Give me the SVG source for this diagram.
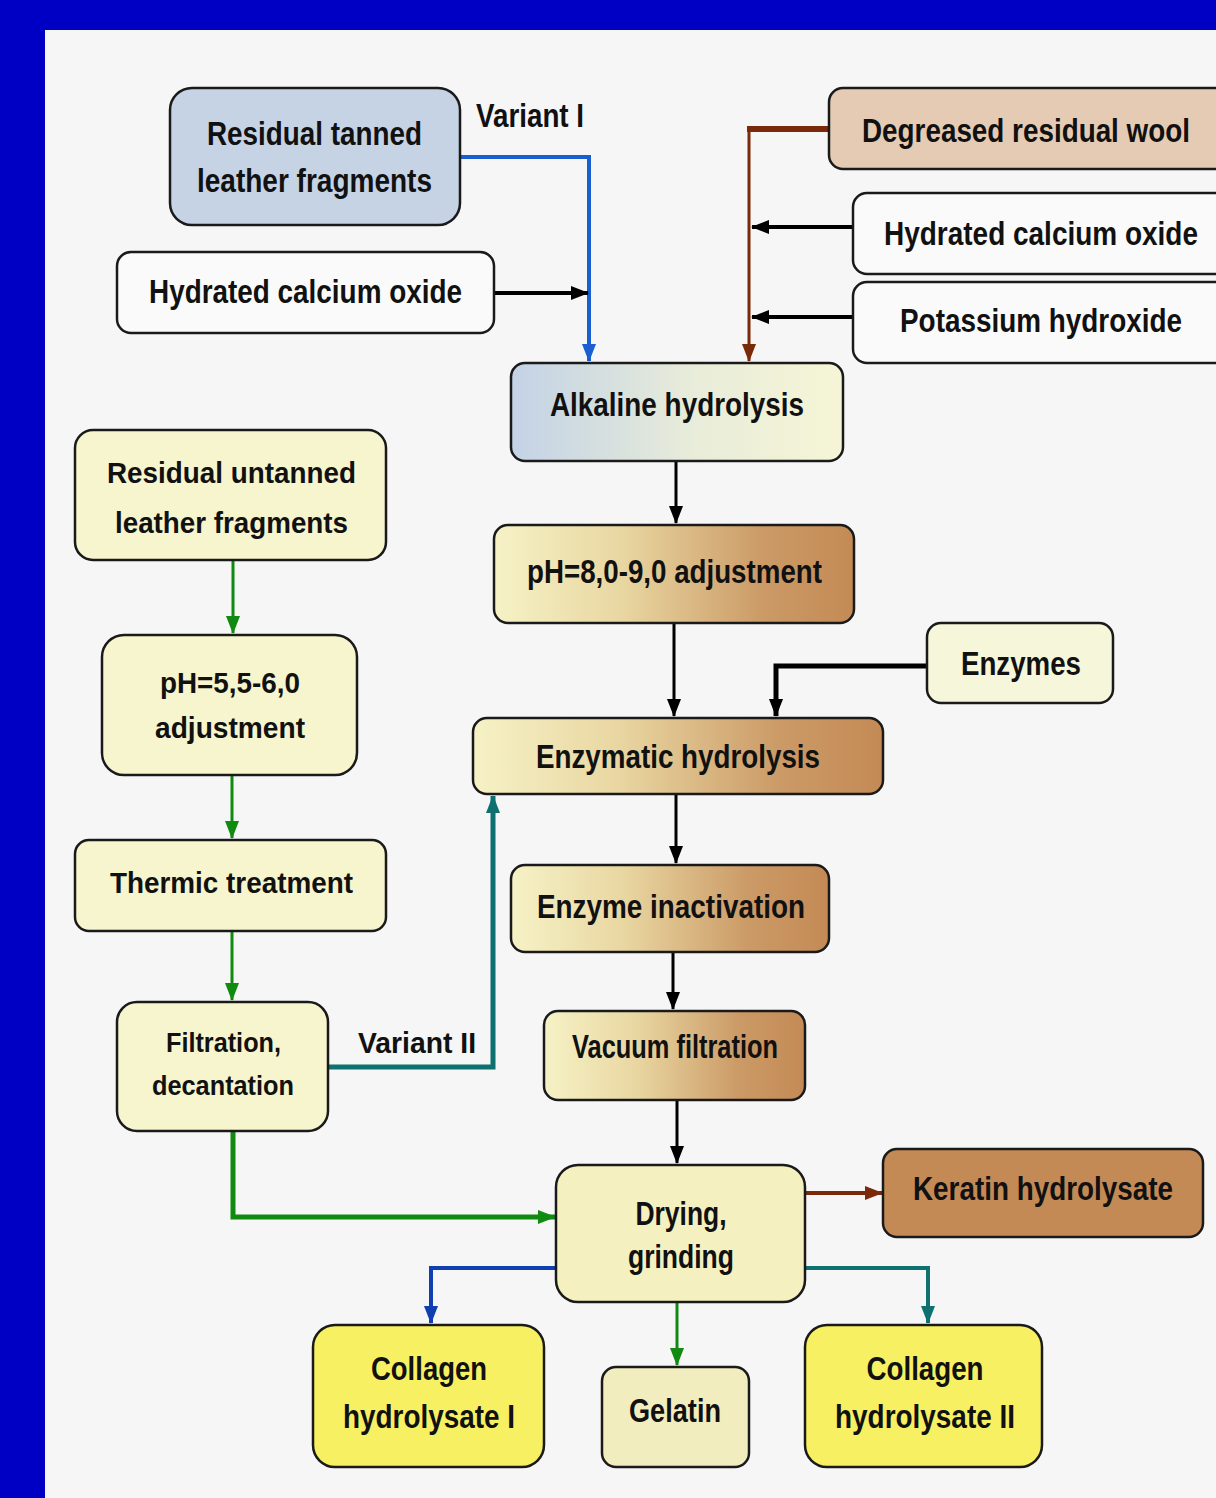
<svg xmlns="http://www.w3.org/2000/svg" width="1216" height="1498" viewBox="0 0 1216 1498">
<style>
.box{stroke:#1a1a1a;stroke-width:2.5}
.t{font-family:"Liberation Sans",Arial,sans-serif;font-weight:bold;font-size:33px;fill:#111;text-anchor:middle}
.ts{font-size:30px}
.tf{font-size:27px}
.c{fill:none}
</style>
<defs>
<linearGradient id="gAlk" x1="0" y1="0" x2="1" y2="0">
<stop offset="0" stop-color="#C3D2E6"/><stop offset="0.55" stop-color="#E8ECD9"/><stop offset="1" stop-color="#F6F5D6"/>
</linearGradient>
<linearGradient id="gBr" x1="0" y1="0" x2="1" y2="0">
<stop offset="0" stop-color="#F6F2C6"/><stop offset="0.35" stop-color="#E9D7A2"/><stop offset="0.75" stop-color="#CB9A66"/><stop offset="1" stop-color="#C48A55"/>
</linearGradient>
<marker id="aBk" viewBox="0 0 18 14" refX="17" refY="7" markerWidth="18" markerHeight="14" markerUnits="userSpaceOnUse" orient="auto"><path d="M0,0 L18,7 L0,14 z" fill="#000"/></marker>
<marker id="aBl" viewBox="0 0 18 14" refX="17" refY="7" markerWidth="18" markerHeight="14" markerUnits="userSpaceOnUse" orient="auto"><path d="M0,0 L18,7 L0,14 z" fill="#1A5FD0"/></marker>
<marker id="aBl2" viewBox="0 0 18 14" refX="17" refY="7" markerWidth="18" markerHeight="14" markerUnits="userSpaceOnUse" orient="auto"><path d="M0,0 L18,7 L0,14 z" fill="#1040B0"/></marker>
<marker id="aBr" viewBox="0 0 18 14" refX="17" refY="7" markerWidth="18" markerHeight="14" markerUnits="userSpaceOnUse" orient="auto"><path d="M0,0 L18,7 L0,14 z" fill="#7A2A0A"/></marker>
<marker id="aGr" viewBox="0 0 18 14" refX="17" refY="7" markerWidth="18" markerHeight="14" markerUnits="userSpaceOnUse" orient="auto"><path d="M0,0 L18,7 L0,14 z" fill="#108A10"/></marker>
<marker id="aTl" viewBox="0 0 18 14" refX="17" refY="7" markerWidth="18" markerHeight="14" markerUnits="userSpaceOnUse" orient="auto"><path d="M0,0 L18,7 L0,14 z" fill="#0F7070"/></marker>
</defs>
<rect x="0" y="0" width="1216" height="1498" fill="#0000C4"/>
<rect x="45" y="30" width="1171" height="1468" fill="#F6F6F6"/>

<g id="connectors" class="c">
<path d="M460,157 H589 V361" stroke="#1A5FD0" stroke-width="4" marker-end="url(#aBl)"/>
<path d="M494,293 H588" stroke="#000" stroke-width="4" marker-end="url(#aBk)"/>
<path d="M829,129 H747" stroke="#7A2A0A" stroke-width="6"/>
<path d="M749,126 V361" stroke="#7A2A0A" stroke-width="3" marker-end="url(#aBr)"/>
<path d="M853,227 H752" stroke="#000" stroke-width="4" marker-end="url(#aBk)"/>
<path d="M853,317 H752" stroke="#000" stroke-width="4" marker-end="url(#aBk)"/>
<path d="M676,461 V523" stroke="#000" stroke-width="3" marker-end="url(#aBk)"/>
<path d="M674,623 V716" stroke="#000" stroke-width="3" marker-end="url(#aBk)"/>
<path d="M927,666 H776 V716" stroke="#000" stroke-width="5" marker-end="url(#aBk)"/>
<path d="M676,794 V863" stroke="#000" stroke-width="3" marker-end="url(#aBk)"/>
<path d="M673,952 V1009" stroke="#000" stroke-width="3" marker-end="url(#aBk)"/>
<path d="M677,1100 V1163" stroke="#000" stroke-width="3" marker-end="url(#aBk)"/>
<path d="M805,1193 H882" stroke="#7A2A0A" stroke-width="4" marker-end="url(#aBr)"/>
<path d="M556,1268 H431 V1323" stroke="#1040B0" stroke-width="4" marker-end="url(#aBl2)"/>
<path d="M805,1268 H928 V1323" stroke="#0F7070" stroke-width="4" marker-end="url(#aTl)"/>
<path d="M677,1302 V1365" stroke="#108A10" stroke-width="3" marker-end="url(#aGr)"/>
<path d="M233,560 V633" stroke="#108A10" stroke-width="3" marker-end="url(#aGr)"/>
<path d="M232,775 V838" stroke="#108A10" stroke-width="3" marker-end="url(#aGr)"/>
<path d="M232,931 V1000" stroke="#108A10" stroke-width="3" marker-end="url(#aGr)"/>
<path d="M328,1067 H493 V796" stroke="#0F7070" stroke-width="5" marker-end="url(#aTl)"/>
<path d="M233,1131 V1217 H555" stroke="#108A10" stroke-width="5" marker-end="url(#aGr)"/>
</g>

<text class="t" x="530" y="127" textLength="108" lengthAdjust="spacingAndGlyphs">Variant I</text>
<text class="t ts" x="417" y="1053" textLength="118" lengthAdjust="spacingAndGlyphs">Variant II</text>

<g id="n-tanned">
<rect class="box" x="170" y="88" width="290" height="137" rx="22" fill="#C5D3E5"/>
<text class="t" x="314.5" y="145" textLength="215" lengthAdjust="spacingAndGlyphs">Residual tanned</text>
<text class="t" x="314.5" y="192" textLength="235" lengthAdjust="spacingAndGlyphs">leather fragments</text>
</g>
<g id="n-hco-left">
<rect class="box" x="117" y="252" width="377" height="81" rx="14" fill="#FAFAFA"/>
<text class="t" x="305.5" y="303" textLength="313" lengthAdjust="spacingAndGlyphs">Hydrated calcium oxide</text>
</g>
<g id="n-wool">
<rect class="box" x="829" y="88" width="400" height="81" rx="14" fill="#E5CBB3"/>
<text class="t" x="1026" y="142" textLength="328" lengthAdjust="spacingAndGlyphs">Degreased residual wool</text>
</g>
<g id="n-hco-right">
<rect class="box" x="853" y="193" width="380" height="81" rx="14" fill="#FAFAFA"/>
<text class="t" x="1041" y="245" textLength="314" lengthAdjust="spacingAndGlyphs">Hydrated calcium oxide</text>
</g>
<g id="n-koh">
<rect class="box" x="853" y="282" width="380" height="81" rx="14" fill="#FAFAFA"/>
<text class="t" x="1041" y="332" textLength="282" lengthAdjust="spacingAndGlyphs">Potassium hydroxide</text>
</g>
<g id="n-alkaline">
<rect class="box" x="511" y="363" width="332" height="98" rx="14" fill="url(#gAlk)"/>
<text class="t" x="677" y="416" textLength="254" lengthAdjust="spacingAndGlyphs">Alkaline hydrolysis</text>
</g>
<g id="n-ph89">
<rect class="box" x="494" y="525" width="360" height="98" rx="14" fill="url(#gBr)"/>
<text class="t" x="674.5" y="583" textLength="295" lengthAdjust="spacingAndGlyphs">pH=8,0-9,0 adjustment</text>
</g>
<g id="n-enzymes">
<rect class="box" x="927" y="623" width="186" height="80" rx="14" fill="#F6F6DA"/>
<text class="t" x="1021" y="675" textLength="120" lengthAdjust="spacingAndGlyphs">Enzymes</text>
</g>
<g id="n-enzhyd">
<rect class="box" x="473" y="718" width="410" height="76" rx="14" fill="url(#gBr)"/>
<text class="t" x="678" y="768" textLength="284" lengthAdjust="spacingAndGlyphs">Enzymatic hydrolysis</text>
</g>
<g id="n-inact">
<rect class="box" x="511" y="865" width="318" height="87" rx="14" fill="url(#gBr)"/>
<text class="t" x="671" y="918" textLength="268" lengthAdjust="spacingAndGlyphs">Enzyme inactivation</text>
</g>
<g id="n-vacuum">
<rect class="box" x="544" y="1011" width="261" height="89" rx="14" fill="url(#gBr)"/>
<text class="t" x="675" y="1058" textLength="206" lengthAdjust="spacingAndGlyphs">Vacuum filtration</text>
</g>
<g id="n-drying">
<rect class="box" x="556" y="1165" width="249" height="137" rx="22" fill="#F5F0C0"/>
<text class="t" x="681" y="1225" textLength="91" lengthAdjust="spacingAndGlyphs">Drying,</text>
<text class="t" x="681" y="1268" textLength="106" lengthAdjust="spacingAndGlyphs">grinding</text>
</g>
<g id="n-keratin">
<rect class="box" x="883" y="1149" width="320" height="88" rx="14" fill="#C48A55"/>
<text class="t" x="1043" y="1200" textLength="260" lengthAdjust="spacingAndGlyphs">Keratin hydrolysate</text>
</g>
<g id="n-coll1">
<rect class="box" x="313" y="1325" width="231" height="142" rx="22" fill="#F7F063"/>
<text class="t" x="429" y="1380" textLength="116" lengthAdjust="spacingAndGlyphs">Collagen</text>
<text class="t" x="429" y="1428" textLength="172" lengthAdjust="spacingAndGlyphs">hydrolysate I</text>
</g>
<g id="n-gelatin">
<rect class="box" x="602" y="1367" width="147" height="100" rx="14" fill="#F2EDBE"/>
<text class="t" x="675" y="1422" textLength="92" lengthAdjust="spacingAndGlyphs">Gelatin</text>
</g>
<g id="n-coll2">
<rect class="box" x="805" y="1325" width="237" height="142" rx="22" fill="#F7F063"/>
<text class="t" x="925" y="1380" textLength="117" lengthAdjust="spacingAndGlyphs">Collagen</text>
<text class="t" x="925" y="1428" textLength="180" lengthAdjust="spacingAndGlyphs">hydrolysate II</text>
</g>
<g id="n-untanned">
<rect class="box" x="75" y="430" width="311" height="130" rx="18" fill="#F6F5CD"/>
<text class="t ts" x="231.5" y="483" textLength="249" lengthAdjust="spacingAndGlyphs">Residual untanned</text>
<text class="t ts" x="231.5" y="533" textLength="233" lengthAdjust="spacingAndGlyphs">leather fragments</text>
</g>
<g id="n-ph56">
<rect class="box" x="102" y="635" width="255" height="140" rx="22" fill="#F6F5CD"/>
<text class="t ts" x="230" y="693" textLength="140" lengthAdjust="spacingAndGlyphs">pH=5,5-6,0</text>
<text class="t ts" x="230" y="738" textLength="150" lengthAdjust="spacingAndGlyphs">adjustment</text>
</g>
<g id="n-thermic">
<rect class="box" x="75" y="840" width="311" height="91" rx="14" fill="#F6F5CD"/>
<text class="t ts" x="231.5" y="893" textLength="243" lengthAdjust="spacingAndGlyphs">Thermic treatment</text>
</g>
<g id="n-filtration">
<rect class="box" x="117" y="1002" width="211" height="129" rx="20" fill="#F6F5CD"/>
<text class="t tf" x="223.5" y="1052" textLength="115" lengthAdjust="spacingAndGlyphs">Filtration,</text>
<text class="t tf" x="223" y="1095" textLength="142" lengthAdjust="spacingAndGlyphs">decantation</text>
</g>
</svg>
